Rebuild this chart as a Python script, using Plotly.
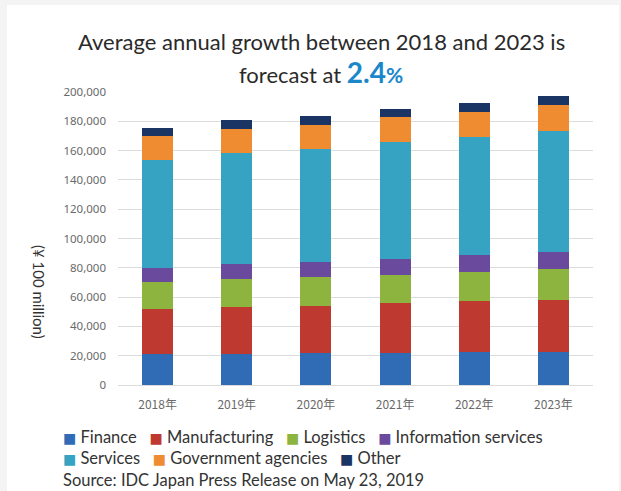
import plotly.graph_objects as go

# Forecast IT spending by industry, Japan (unit: 100 million yen)
years = ["2018年", "2019年", "2020年", "2021年", "2022年", "2023年"]
finance = [21000, 21000, 21600, 21600, 22800, 22800]
manufacturing = [30700, 32100, 32600, 34200, 34600, 35300]
logistics = [18900, 19100, 19200, 19400, 19400, 20900]
information_services = [9600, 10700, 10400, 10900, 11600, 11700]
services = [73600, 75400, 77300, 79700, 80900, 82900]
government_agencies = [15900, 16700, 16100, 17100, 17300, 17500]
other = [5500, 5600, 6200, 5500, 5900, 5900]

series_names = ["Finance", "Manufacturing", "Logistics", "Information services",
                "Services", "Government agencies", "Other"]
series_values = [finance, manufacturing, logistics, information_services,
                 services, government_agencies, other]
series_colors = ["#2f6cb5", "#be3a31", "#8db43e", "#6a4a9c",
                 "#36a3c2", "#ef8b31", "#1a3563"]

y_ticks = list(range(0, 200001, 20000))
y_tick_labels = [f"{v:,}" for v in y_ticks]

W, H = 621, 491
M_L, M_R, M_T, M_B = 118, 28, 92, 106
PW, PH = W - M_L - M_R, H - M_T - M_B


def px_x(x):
    return (x - M_L) / PW


def px_y(y):
    return (H - M_B - y) / PH


fig = go.Figure()
for name, vals, col in zip(series_names, series_values, series_colors):
    fig.add_trace(go.Bar(x=years, y=vals, name=name, marker_color=col,
                         marker_line_width=0, showlegend=False))

fig.update_layout(
    width=W, height=H,
    margin=dict(l=M_L, r=M_R, t=M_T, b=M_B, pad=0),
    barmode="stack", bargap=0.61,
    paper_bgcolor="#f4f4f4", plot_bgcolor="white",
    font=dict(family="Lato", color="#333"),
)

fig.update_xaxes(
    showgrid=False, showline=False, zeroline=False, ticks="",
    tickfont=dict(family="Noto Sans CJK JP", size=12, color="#6a6a6a"),
    ticklabelstandoff=11,
)
fig.update_yaxes(
    range=[0, 200000], tickvals=y_ticks, ticktext=y_tick_labels,
    showgrid=True, gridcolor="#dcdcdc", gridwidth=1,
    zeroline=True, zerolinecolor="#dcdcdc", zerolinewidth=1,
    showline=False, ticks="",
    tickfont=dict(family="Noto Sans", size=11.5, color="#6a6a6a"),
    ticklabelstandoff=11,
)

# white card behind the chart
fig.add_shape(type="rect", xref="paper", yref="paper",
              x0=px_x(7), x1=px_x(619), y0=px_y(H + 20), y1=px_y(5),
              fillcolor="white", line_width=0, layer="below")

# title
fig.add_annotation(
    text="Average annual growth between 2018 and 2023 is",
    xref="paper", yref="paper", x=px_x(321), y=px_y(41),
    xanchor="center", yanchor="middle", showarrow=False,
    font=dict(family="Lato", size=22, color="#2a2a2a"),
)
fig.add_annotation(
    text=("forecast at <b><span style='font-size:28px;color:#1a87cb'>2.4</span>"
          "<span style='font-size:21px;color:#1a87cb'>%</span></b>"),
    xref="paper", yref="paper", x=px_x(321), y=px_y(72),
    xanchor="center", yanchor="middle", showarrow=False,
    font=dict(family="Lato", size=22, color="#2a2a2a"),
)

# y-axis unit label
fig.add_annotation(
    text="(¥ 100 million)", textangle=90,
    xref="paper", yref="paper", x=px_x(39), y=px_y(292),
    xanchor="center", yanchor="middle", showarrow=False,
    font=dict(family="Lato", size=15, color="#333"),
)


def legend_row(idx):
    parts = []
    for i in idx:
        parts.append(
            f"<span style='font-family:DejaVu Sans;font-size:14px;color:{series_colors[i]}'>■</span>"
            f"&nbsp;{series_names[i]}"
        )
    return "&nbsp;&nbsp;&nbsp;".join(parts)


fig.add_annotation(
    text=legend_row([0, 1, 2, 3]),
    xref="paper", yref="paper", x=px_x(61), y=px_y(437),
    xanchor="left", yanchor="middle", showarrow=False,
    font=dict(family="Lato", size=16.5, color="#333"),
)
fig.add_annotation(
    text=legend_row([4, 5, 6]),
    xref="paper", yref="paper", x=px_x(61), y=px_y(458),
    xanchor="left", yanchor="middle", showarrow=False,
    font=dict(family="Lato", size=16.5, color="#333"),
)
fig.add_annotation(
    text="Source: IDC Japan Press Release on May 23, 2019",
    xref="paper", yref="paper", x=px_x(61), y=px_y(480),
    xanchor="left", yanchor="middle", showarrow=False,
    font=dict(family="Lato", size=16.5, color="#333"),
)

fig.write_html("out.html")
